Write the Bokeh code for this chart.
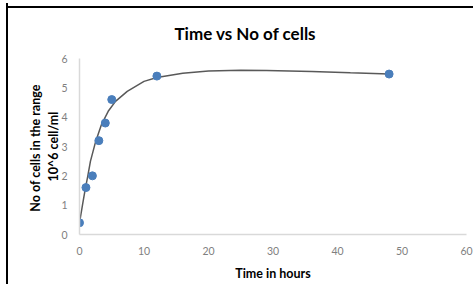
from bokeh.plotting import figure
from bokeh.embed import file_html
from bokeh.resources import INLINE
from bokeh.models import Range1d

# Measured data points
time_h = [0, 1, 2, 3, 4, 5, 12, 48]
cells = [0.4, 1.6, 2.0, 3.2, 3.8, 4.6, 5.4, 5.47]

# Trend curve
curve_x = [0, 0.5, 0.93, 1.24, 1.7, 2.48, 3.41, 4.45, 5.58, 7.4, 10, 12, 16, 20, 25, 29, 36, 42, 48]
curve_y = [0.4, 1.05, 1.6, 1.94, 2.5, 3.15, 3.75, 4.2, 4.54, 4.88, 5.22, 5.35, 5.50, 5.57, 5.60, 5.59, 5.56, 5.51, 5.47]

x_ticks = [0, 10, 20, 30, 40, 50, 60]
y_ticks = [0, 1, 2, 3, 4, 5, 6]

TITLE = "Time vs No of cells"
FONT = "Lato"

p = figure(width=467, height=281, output_backend="svg", toolbar_location=None,
           x_range=Range1d(0, 60), y_range=Range1d(0, 6),
           min_border_left=71, min_border_right=9, min_border_top=55, min_border_bottom=50)
p.border_fill_color = None
p.background_fill_color = None
p.styles = {"border-left": "2px solid black", "box-sizing": "border-box",
            "margin-left": "6px", "margin-top": "3px",
            "background": "linear-gradient(black, black) 0px 3px / 100% 2px no-repeat, white"}

p.title.text = TITLE
p.title.text_font = FONT
p.title.text_font_size = "17px"
p.title.text_font_style = "bold"
p.title.text_color = "black"
p.title.align = "left"
p.title.offset = 95
p.title.standoff = 30

p.outline_line_color = None
p.xgrid.grid_line_color = None
p.ygrid.grid_line_color = None

p.line(curve_x, curve_y, line_color="#595959", line_width=1.5)
p.scatter(time_h, cells, size=8, fill_color="#4a7ebb", line_color="#4a7ebb")

for ax in (p.xaxis[0], p.yaxis[0]):
    ax.axis_line_color = "#d9d9d9"
    ax.axis_line_width = 1.5
    ax.major_tick_line_color = None
    ax.minor_tick_line_color = None
    ax.major_label_text_font = FONT
    ax.major_label_text_font_size = "10.5px"
    ax.major_label_text_color = "#7f7f7f"
    ax.axis_label_text_font = FONT
    ax.axis_label_text_font_size = "12.5px"
    ax.axis_label_text_font_style = "bold"
    ax.axis_label_text_color = "black"

p.xaxis.ticker = x_ticks
p.yaxis.ticker = y_ticks
p.xaxis.major_label_standoff = 6
p.yaxis.major_label_standoff = 6
p.xaxis.axis_label = "Time in hours"
p.yaxis.axis_label = "No of cells  in the range\n10^6 cell/ml"
p.xaxis.axis_label_standoff = 8
p.yaxis.axis_label_standoff = -3

open("out.html", "w").write(file_html(p, INLINE))
